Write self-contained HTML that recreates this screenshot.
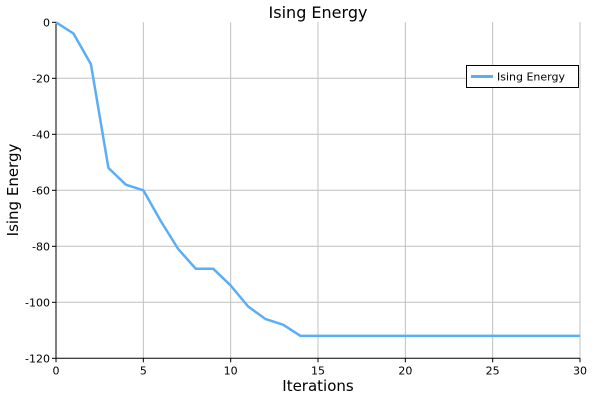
<!DOCTYPE html>
<html><head><meta charset="utf-8"><style>
body{margin:0;background:#fff;font-family:"DejaVu Sans","Liberation Sans",sans-serif;}
svg text{font-family:"DejaVu Sans","Liberation Sans",sans-serif;}
</style></head><body>
<svg id="c" width="600" height="400" xmlns="http://www.w3.org/2000/svg"></svg>
<script>
const xTicks=[0,5,10,15,20,25,30];
const yTicks=[0,-20,-40,-60,-80,-100,-120];
const iterations=[0,1,2,3,4,5,6,7,8,9,10,11,12,13,14,15,16,17,18,19,20,21,22,23,24,25,26,27,28,29,30];
const energy=[0,-4,-15,-52,-58,-60,-71,-81,-88,-88,-94,-101.5,-106,-108,-112,-112,-112,-112,-112,-112,-112,-112,-112,-112,-112,-112,-112,-112,-112,-112,-112];
const L=56,R=580,T=22.3,B=358.3;
const sx=v=>L+(v-0)/(30-0)*(R-L);
const sy=v=>T+(0-v)/(120)*(B-T);
const svg=document.getElementById('c');
const NS='http://www.w3.org/2000/svg';
function mk(tag,attrs,parent){const e=document.createElementNS(NS,tag);for(const k in attrs)e.setAttribute(k,attrs[k]);(parent||svg).appendChild(e);return e;}
xTicks.forEach(t=>{if(t>0){const g=mk('line',{x1:sx(t),x2:sx(t),y1:T,y2:B,stroke:'#c0c0c0','stroke-width':1});

}
const tk=mk('line',{x1:sx(t),x2:sx(t),y1:B,y2:B+4,stroke:'#000'});


const tx=mk('text',{x:sx(t),y:B+16,'text-anchor':'middle','font-size':11,fill:'#000'});tx.textContent=t;

});
yTicks.forEach(t=>{if(t<0&&t>-120){const g=mk('line',{x1:L,x2:R,y1:sy(t),y2:sy(t),stroke:'#c0c0c0','stroke-width':1});

}
const tk=mk('line',{x1:L-4,x2:L,y1:sy(t),y2:sy(t),stroke:'#000'});


const tx=mk('text',{x:L-6,y:sy(t)+4,'text-anchor':'end','font-size':11,fill:'#000'});tx.textContent=t;

});
const ax=mk('path',{d:`M${L} ${T}V${B}H${R}`,fill:'none',stroke:'#000','stroke-width':1});


const line=mk('polyline',{points:iterations.map((x,i)=>sx(x)+','+sy(energy[i])).join(' '),fill:'none',stroke:'#5aaef5','stroke-width':2.5,'stroke-linejoin':'round'});


const title=mk('text',{x:318,y:18,'text-anchor':'middle','font-size':16,fill:'#000'});title.textContent='Ising Energy';


const xl=mk('text',{x:318,y:391,'text-anchor':'middle','font-size':15,fill:'#000'});xl.textContent='Iterations';


const yl=mk('text',{x:18,y:190,'text-anchor':'middle','font-size':15,fill:'#000',transform:'rotate(-90 18 190)'});yl.textContent='Ising Energy';


const lg=mk('g',{});


mk('rect',{x:466.5,y:65.5,width:112,height:22,fill:'#fff',stroke:'#000'},lg);
mk('line',{x1:471,x2:493,y1:76.5,y2:76.5,stroke:'#5aaef5','stroke-width':3},lg);
const lt=mk('text',{x:497,y:80.5,'font-size':11,fill:'#000'},lg);lt.textContent='Ising Energy';


</script>
</body></html>
